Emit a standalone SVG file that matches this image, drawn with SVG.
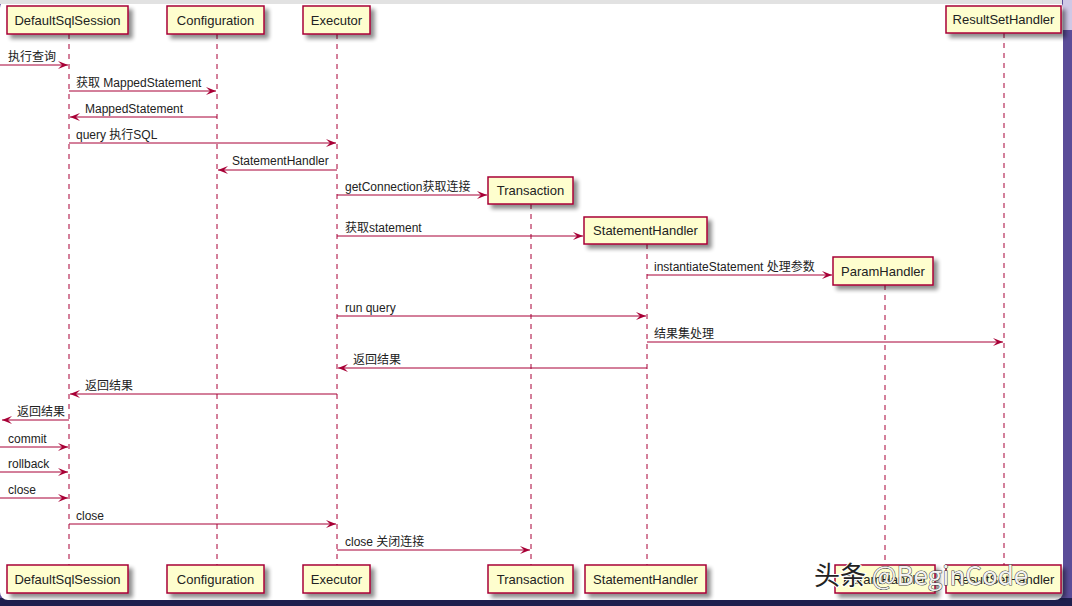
<svg xmlns="http://www.w3.org/2000/svg" width="1072" height="606" viewBox="0 0 1072 606">
<defs>
<filter id="sh" x="-10%" y="-20%" width="130%" height="160%">
<feGaussianBlur in="SourceAlpha" stdDeviation="2"/>
<feOffset dx="4" dy="4" result="b"/>
<feComponentTransfer><feFuncA type="linear" slope="0.45"/></feComponentTransfer>
<feMerge><feMergeNode/><feMergeNode in="SourceGraphic"/></feMerge>
</filter>
<marker id="ah" viewBox="0 0 10 8" refX="10" refY="4" markerWidth="10" markerHeight="8" markerUnits="userSpaceOnUse" orient="auto-start-reverse">
<path d="M0,0 L10,4 L0,8 L4,4 Z" fill="#a80036"/>
</marker>
</defs>
<style>
.box{fill:#fefece;stroke:#a80036;stroke-width:1.5}
.bl{font-family:"Liberation Sans","Noto Sans CJK SC",sans-serif;font-size:13px;fill:#222;text-anchor:middle}
.life{stroke:#a80036;stroke-width:1;stroke-dasharray:5,5;fill:none}
.msg{stroke:#a80036;stroke-width:1;fill:none;marker-end:url(#ah)}
.ml{font-family:"Liberation Sans","Noto Sans CJK SC",sans-serif;font-size:12px;fill:#222}
</style>
<rect x="0" y="0" width="1072" height="606" fill="#5a4c98"/>
<rect x="0" y="598" width="1072" height="8" fill="#1e1f4e"/>
<rect x="0" y="0" width="1063" height="600" rx="8" fill="#ffffff"/>
<rect x="0" y="0" width="1062" height="4" fill="#e2e2e2"/>
<rect x="1063" y="0" width="9" height="30" fill="#cfc8e6"/>

<g id="lifelines">
<line class="life" x1="69" y1="34" x2="69" y2="565"/>
<line class="life" x1="217" y1="34" x2="217" y2="565"/>
<line class="life" x1="337" y1="34" x2="337" y2="565"/>
<line class="life" x1="531" y1="204" x2="531" y2="565"/>
<line class="life" x1="647" y1="244" x2="647" y2="565"/>
<line class="life" x1="885" y1="285" x2="885" y2="565"/>
<line class="life" x1="1004" y1="33" x2="1004" y2="565"/>
</g>

<g id="node-DefaultSqlSession">
<rect class="box" filter="url(#sh)" x="7" y="6" width="121" height="28"/>
<text class="bl" x="67.5" y="24.5">DefaultSqlSession</text>
<rect class="box" filter="url(#sh)" x="7" y="565" width="121" height="28"/>
<text class="bl" x="67.5" y="583.5">DefaultSqlSession</text>
</g>
<g id="node-Configuration">
<rect class="box" filter="url(#sh)" x="167" y="6" width="97" height="28"/>
<text class="bl" x="215.5" y="24.5">Configuration</text>
<rect class="box" filter="url(#sh)" x="167" y="565" width="97" height="28"/>
<text class="bl" x="215.5" y="583.5">Configuration</text>
</g>
<g id="node-Executor">
<rect class="box" filter="url(#sh)" x="303" y="6" width="67" height="28"/>
<text class="bl" x="336.5" y="24.5">Executor</text>
<rect class="box" filter="url(#sh)" x="303" y="565" width="67" height="28"/>
<text class="bl" x="336.5" y="583.5">Executor</text>
</g>
<g id="node-Transaction">
<rect class="box" filter="url(#sh)" x="488" y="177" width="85" height="27"/>
<text class="bl" x="530.5" y="195">Transaction</text>
<rect class="box" filter="url(#sh)" x="488" y="565" width="85" height="28"/>
<text class="bl" x="530.5" y="583.5">Transaction</text>
</g>
<g id="node-StatementHandler">
<rect class="box" filter="url(#sh)" x="584" y="217" width="123" height="27"/>
<text class="bl" x="645.5" y="235">StatementHandler</text>
<rect class="box" filter="url(#sh)" x="585" y="565" width="121" height="28"/>
<text class="bl" x="645.5" y="583.5">StatementHandler</text>
</g>
<g id="node-ParamHandler">
<rect class="box" filter="url(#sh)" x="833" y="257" width="100" height="28"/>
<text class="bl" x="883" y="275.5">ParamHandler</text>
<rect class="box" filter="url(#sh)" x="835" y="565" width="100" height="28"/>
<text class="bl" x="885" y="583.5">ParamHandler</text>
</g>
<g id="node-ResultSetHandler">
<rect class="box" filter="url(#sh)" x="946" y="6" width="115" height="27"/>
<text class="bl" x="1003.5" y="24">ResultSetHandler</text>
<rect class="box" filter="url(#sh)" x="946" y="565" width="115" height="28"/>
<text class="bl" x="1003.5" y="583.5">ResultSetHandler</text>
</g>

<g id="connectors">
<line class="msg" x1="0" y1="65" x2="68" y2="65"/>
<text class="ml" x="8" y="61">执行查询</text>
<line class="msg" x1="69" y1="91" x2="216" y2="91"/>
<text class="ml" x="76" y="87">获取 MappedStatement</text>
<line class="msg" x1="217" y1="117" x2="70" y2="117"/>
<text class="ml" x="85" y="113">MappedStatement</text>
<line class="msg" x1="69" y1="143" x2="336" y2="143"/>
<text class="ml" x="76" y="139">query 执行SQL</text>
<line class="msg" x1="337" y1="170" x2="218" y2="170"/>
<text class="ml" x="232" y="165">StatementHandler</text>
<line class="msg" x1="337" y1="195" x2="487" y2="195"/>
<text class="ml" x="345" y="191">getConnection获取连接</text>
<line class="msg" x1="337" y1="236" x2="583" y2="236"/>
<text class="ml" x="345" y="232">获取statement</text>
<line class="msg" x1="647" y1="275" x2="832" y2="275"/>
<text class="ml" x="654" y="271">instantiateStatement 处理参数</text>
<line class="msg" x1="337" y1="316" x2="646" y2="316"/>
<text class="ml" x="345" y="312">run query</text>
<line class="msg" x1="647" y1="342" x2="1003" y2="342"/>
<text class="ml" x="654" y="338">结果集处理</text>
<line class="msg" x1="647" y1="368" x2="338" y2="368"/>
<text class="ml" x="353" y="364">返回结果</text>
<line class="msg" x1="337" y1="394" x2="70" y2="394"/>
<text class="ml" x="85" y="390">返回结果</text>
<line class="msg" x1="69" y1="420" x2="2" y2="420"/>
<text class="ml" x="17" y="416">返回结果</text>
<line class="msg" x1="0" y1="447" x2="68" y2="447"/>
<text class="ml" x="8" y="443">commit</text>
<line class="msg" x1="0" y1="472" x2="68" y2="472"/>
<text class="ml" x="8" y="468">rollback</text>
<line class="msg" x1="0" y1="498" x2="68" y2="498"/>
<text class="ml" x="8" y="494">close</text>
<line class="msg" x1="69" y1="524" x2="336" y2="524"/>
<text class="ml" x="76" y="520">close</text>
<line class="msg" x1="337" y1="550" x2="530" y2="550"/>
<text class="ml" x="345" y="546">close 关闭连接</text>
</g>

<text x="814" y="585" font-family="'Noto Sans CJK SC','Liberation Sans',sans-serif" font-size="26" fill="#222" stroke="#ffffff" stroke-width="2" paint-order="stroke">头条 <tspan fill="#f2f2f2" stroke="#444" stroke-width="1">@BeginCode</tspan></text>
</svg>
